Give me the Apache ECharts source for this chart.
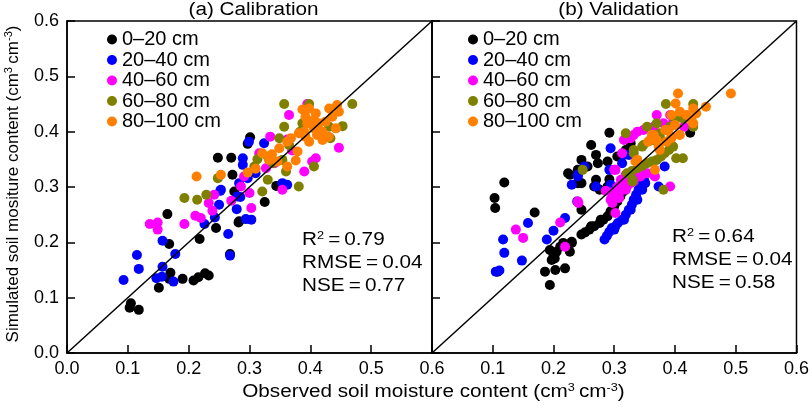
<!DOCTYPE html>
<html>
<head>
<meta charset="utf-8">
<script src="https://cdn.jsdelivr.net/npm/echarts@6/dist/echarts.min.js"></script>
<style>
  html, body { margin: 0; padding: 0; background: #fff; }
  #chart { width: 812px; height: 408px; }
</style>
</head>
<body>
<div id="chart"></div>
<script>
// depth classes and colours
const depths = ['0–20 cm', '20–40 cm', '40–60 cm', '60–80 cm', '80–100 cm'];
const colors = ['#000000', '#0000ff', '#ff00ff', '#808000', '#ff7f00'];

// (a) calibration: [observed, simulated]
const calib0_20 = [[0.105,0.090],[0.103,0.082],[0.118,0.078],[0.151,0.118],[0.170,0.145],[0.168,0.134],[0.190,0.134],[0.208,0.131],[0.216,0.137],[0.227,0.144],[0.233,0.140],[0.168,0.197],[0.218,0.206],[0.245,0.226],[0.268,0.179],[0.282,0.236],[0.325,0.273],[0.165,0.251],[0.275,0.292],[0.301,0.390],[0.297,0.378],[0.248,0.353],[0.270,0.353],[0.272,0.322],[0.344,0.302],[0.283,0.238]];
const calib20_40 = [[0.093,0.132],[0.118,0.152],[0.115,0.177],[0.147,0.135],[0.156,0.138],[0.175,0.129],[0.157,0.156],[0.178,0.179],[0.157,0.203],[0.226,0.233],[0.243,0.245],[0.265,0.215],[0.268,0.176],[0.279,0.260],[0.294,0.242],[0.303,0.241],[0.250,0.268],[0.252,0.293],[0.285,0.282],[0.299,0.382],[0.324,0.379],[0.289,0.352],[0.289,0.340],[0.297,0.316],[0.253,0.295],[0.283,0.307],[0.280,0.283],[0.354,0.307],[0.362,0.304],[0.310,0.325],[0.338,0.348]];
const calib40_60 = [[0.136,0.233],[0.149,0.236],[0.149,0.223],[0.193,0.233],[0.211,0.248],[0.220,0.244],[0.233,0.271],[0.239,0.257],[0.242,0.286],[0.270,0.275],[0.303,0.262],[0.300,0.289],[0.365,0.430],[0.395,0.450],[0.362,0.386],[0.334,0.391],[0.447,0.371],[0.409,0.352],[0.403,0.346],[0.390,0.328],[0.316,0.361],[0.327,0.334],[0.341,0.343],[0.354,0.295],[0.286,0.301],[0.370,0.366],[0.291,0.319]];
const calib60_80 = [[0.193,0.280],[0.214,0.277],[0.229,0.286],[0.321,0.292],[0.357,0.450],[0.398,0.450],[0.469,0.450],[0.357,0.409],[0.387,0.415],[0.431,0.409],[0.453,0.410],[0.433,0.388],[0.383,0.400],[0.349,0.388],[0.365,0.376],[0.313,0.350],[0.330,0.355],[0.338,0.343],[0.354,0.349],[0.360,0.328],[0.406,0.337],[0.381,0.301],[0.330,0.313],[0.248,0.316],[0.308,0.337]];
const calib80_100 = [[0.213,0.319],[0.253,0.322],[0.297,0.326],[0.310,0.333],[0.321,0.361],[0.337,0.359],[0.349,0.370],[0.362,0.337],[0.376,0.348],[0.379,0.364],[0.362,0.382],[0.368,0.388],[0.381,0.397],[0.390,0.400],[0.395,0.415],[0.406,0.406],[0.411,0.394],[0.398,0.382],[0.420,0.385],[0.387,0.440],[0.398,0.442],[0.409,0.433],[0.392,0.427],[0.406,0.421],[0.414,0.415],[0.431,0.442],[0.444,0.448],[0.447,0.436],[0.436,0.427],[0.425,0.418],[0.420,0.400],[0.430,0.391],[0.442,0.406],[0.392,0.391],[0.332,0.349],[0.346,0.346]];

// (b) validation
const valid0_20 = [[0.119,0.308],[0.103,0.280],[0.104,0.262],[0.169,0.254],[0.108,0.147],[0.194,0.186],[0.200,0.177],[0.197,0.168],[0.202,0.171],[0.205,0.183],[0.211,0.192],[0.216,0.199],[0.230,0.201],[0.227,0.183],[0.186,0.147],[0.203,0.150],[0.219,0.153],[0.194,0.123],[0.246,0.214],[0.252,0.218],[0.259,0.223],[0.267,0.229],[0.276,0.235],[0.282,0.241],[0.289,0.247],[0.294,0.256],[0.300,0.265],[0.305,0.274],[0.310,0.283],[0.315,0.292],[0.227,0.322],[0.246,0.307],[0.240,0.307],[0.270,0.313],[0.289,0.301],[0.292,0.314],[0.246,0.259],[0.224,0.325],[0.240,0.331],[0.256,0.337],[0.273,0.343],[0.289,0.346],[0.305,0.355],[0.319,0.367],[0.327,0.379],[0.292,0.398],[0.262,0.376],[0.270,0.358],[0.246,0.349],[0.276,0.295],[0.230,0.199],[0.262,0.229],[0.278,0.241],[0.425,0.398],[0.267,0.301],[0.243,0.308]];
const valid20_40 = [[0.117,0.205],[0.119,0.181],[0.111,0.149],[0.105,0.147],[0.148,0.167],[0.158,0.235],[0.200,0.221],[0.189,0.205],[0.219,0.244],[0.239,0.274],[0.230,0.304],[0.240,0.319],[0.270,0.301],[0.294,0.304],[0.284,0.205],[0.288,0.212],[0.292,0.219],[0.296,0.226],[0.302,0.229],[0.306,0.235],[0.313,0.241],[0.319,0.250],[0.324,0.259],[0.329,0.268],[0.332,0.277],[0.336,0.286],[0.340,0.295],[0.343,0.301],[0.345,0.307],[0.349,0.313],[0.294,0.370],[0.324,0.358],[0.313,0.343],[0.292,0.331],[0.240,0.322],[0.383,0.337],[0.373,0.301],[0.300,0.223],[0.316,0.241],[0.327,0.259],[0.338,0.277],[0.346,0.295],[0.351,0.307],[0.251,0.337],[0.316,0.358]];
const valid40_60 = [[0.138,0.223],[0.150,0.208],[0.211,0.236],[0.241,0.271],[0.219,0.192],[0.302,0.253],[0.286,0.293],[0.297,0.271],[0.308,0.280],[0.319,0.295],[0.327,0.307],[0.294,0.277],[0.296,0.290],[0.308,0.289],[0.305,0.300],[0.321,0.301],[0.315,0.310],[0.332,0.310],[0.325,0.316],[0.343,0.319],[0.354,0.325],[0.316,0.385],[0.332,0.394],[0.348,0.403],[0.365,0.409],[0.381,0.415],[0.397,0.418],[0.300,0.331],[0.240,0.274],[0.367,0.319],[0.311,0.313],[0.319,0.322],[0.370,0.430],[0.392,0.430],[0.392,0.301],[0.415,0.409],[0.327,0.388],[0.338,0.400],[0.300,0.283],[0.311,0.295],[0.338,0.319],[0.351,0.325],[0.365,0.322],[0.313,0.361],[0.302,0.331]];
const valid60_80 = [[0.319,0.397],[0.248,0.331],[0.381,0.295],[0.321,0.325],[0.329,0.329],[0.338,0.334],[0.346,0.338],[0.354,0.343],[0.362,0.346],[0.370,0.349],[0.377,0.355],[0.383,0.361],[0.390,0.367],[0.397,0.373],[0.332,0.361],[0.346,0.373],[0.362,0.385],[0.375,0.397],[0.392,0.409],[0.330,0.310],[0.385,0.450],[0.430,0.450],[0.413,0.424],[0.430,0.409],[0.402,0.352],[0.413,0.352],[0.330,0.313],[0.332,0.367],[0.348,0.376],[0.365,0.385],[0.375,0.391],[0.354,0.409],[0.370,0.415],[0.400,0.421],[0.413,0.427]];
const valid80_100 = [[0.335,0.346],[0.367,0.331],[0.370,0.385],[0.365,0.394],[0.386,0.403],[0.394,0.391],[0.405,0.469],[0.492,0.469],[0.401,0.451],[0.451,0.445],[0.430,0.442],[0.435,0.433],[0.427,0.421],[0.430,0.415],[0.419,0.430],[0.408,0.436],[0.394,0.430],[0.400,0.412],[0.389,0.403],[0.384,0.403],[0.408,0.394],[0.394,0.388],[0.386,0.382],[0.373,0.373],[0.375,0.367],[0.359,0.385],[0.362,0.394],[0.356,0.382],[0.338,0.349]];

// 1:1 line
const oneToOne = [[0, 0], [0.6, 0.6]];
const axisTicks = [0, 0.6, 0.1]; // min, max, interval

const calibSets = [calib0_20, calib20_40, calib40_60, calib60_80, calib80_100];
const validSets = [valid0_20, valid20_40, valid40_60, valid60_80, valid80_100];

const FONT = '"Liberation Sans", Arial, sans-serif';
const WIDE = 1.15; // the source picture is stretched sideways
const sup = { fontSize: 11, fontFamily: FONT, padding: [0, 0, 9, 0] };

const chart = echarts.init(document.getElementById('chart'), null, { renderer: 'canvas' });

function makeX(idx, hideZero) {
    return {
        type: 'value', gridIndex: idx,
        min: axisTicks[0], max: axisTicks[1], interval: axisTicks[2],
        axisLine: { lineStyle: { color: '#000', width: 1.5 } },
        axisTick: { inside: true, length: 8, lineStyle: { color: '#000', width: 1.5 } },
        axisLabel: {
            color: '#000', fontSize: 18, fontFamily: FONT, margin: 7,
            formatter: v => (hideZero && v === 0) ? '' : v.toFixed(1)
        },
        splitLine: { show: false }
    };
}
function makeY(idx, showLabel) {
    return {
        type: 'value', gridIndex: idx,
        min: axisTicks[0], max: axisTicks[1], interval: axisTicks[2],
        axisLine: { lineStyle: { color: '#000', width: 1.5 } },
        axisTick: { inside: true, length: 8, lineStyle: { color: '#000', width: 1.5 } },
        axisLabel: { show: showLabel, color: '#000', fontSize: 18, fontFamily: FONT, margin: 8,
            formatter: v => v.toFixed(1) },
        splitLine: { show: false }
    };
}

const series = [];
calibSets.forEach((d, i) => series.push({
    name: depths[i], type: 'scatter', xAxisIndex: 0, yAxisIndex: 0,
    data: d, symbolSize: 10, itemStyle: { color: colors[i], opacity: 1 }
}));
validSets.forEach((d, i) => series.push({
    name: depths[i], type: 'scatter', xAxisIndex: 1, yAxisIndex: 1,
    data: d, symbolSize: 10, itemStyle: { color: colors[i], opacity: 1 }
}));
[0, 1].forEach(g => series.push({
    type: 'line', xAxisIndex: g, yAxisIndex: g, data: oneToOne, z: 5,
    symbol: 'none', silent: true, lineStyle: { color: '#000', width: 1.5 }
}));

function legendAt(left, gap) {
    return {
        orient: 'vertical', left: left, top: 24.5, itemGap: 0.5,
        itemWidth: 10, itemHeight: 10, itemTextGap: gap, icon: 'circle',
        data: depths, selectedMode: false,
        textStyle: { color: '#000', fontSize: 20, fontFamily: FONT, lineHeight: 19 }
    };
}

function label(text, x, y, size, align, extra) {
    return Object.assign({
        type: 'text', x: x, y: y, scaleX: WIDE,
        style: { text: text, fontSize: size, fontFamily: FONT, fill: '#000',
            textAlign: align, textVerticalAlign: 'middle', rich: { s: sup } }
    }, extra || {});
}

function statText(x, y, r2, rmse, nse) {
    return [
        label('R{s|2}\u2009=\u2009' + r2, x, y, 18, 'left'),
        label('RMSE\u2009=\u2009' + rmse, x, y + 23, 18, 'left'),
        label('NSE\u2009=\u2009' + nse, x, y + 46, 18, 'left')
    ];
}

const option = {
    animation: false,
    grid: [
        { left: 67, top: 21, width: 365, height: 332, show: true, borderColor: '#000', borderWidth: 1.5 },
        { left: 432, top: 21, width: 367, height: 332, show: true, borderColor: '#000', borderWidth: 1.5 }
    ],
    xAxis: [makeX(0, false), makeX(1, true)],
    yAxis: [makeY(0, true), makeY(1, false)],
    legend: [legendAt(102, 23), legendAt(463, 25)],
    series: series,
    graphic: [
        label('(a) Calibration', 253.5, 10, 18, 'center'),
        label('(b) Validation', 618.5, 10, 18, 'center'),
        ...statText(302, 240, '0.79', '0.04', '0.77'),
        ...statText(672, 237, '0.64', '0.04', '0.58'),
        label('Observed soil moisture content (cm{s|3}\u2009cm{s|-3})', 433.5, 392, 18, 'center'),
        label('Simulated soil mositure content (cm{s|3}\u2009cm{s|-3})', 13, 184, 17, 'center',
            { scaleX: 1, rotation: Math.PI / 2 })
    ]
};

chart.setOption(option);
</script>
</body>
</html>
